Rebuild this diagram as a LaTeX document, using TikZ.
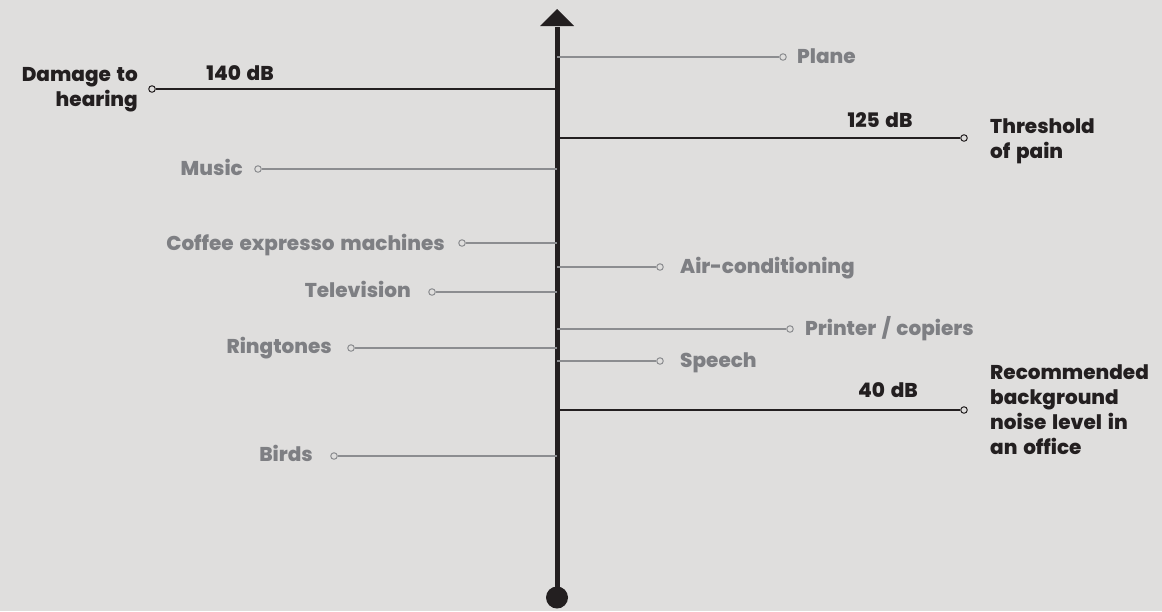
\documentclass[tikz,border=0pt]{standalone}
\usepackage{fontspec}
\setmainfont{Poppins}[BoldFont={Poppins ExtraBold}, WordSpace=1.5]
\usetikzlibrary{arrows.meta}
\definecolor{bg}{HTML}{DFDEDD}
\definecolor{ink}{HTML}{231F20}
\definecolor{soft}{HTML}{7E7F83}
\definecolor{softline}{HTML}{8C8D90}
\tikzset{
  lbl/.style={font=\fontsize{20}{25}\selectfont\bfseries, inner sep=0pt},
  graylbl/.style={lbl, text=soft},
  blacklbl/.style={lbl, text=ink},
  grayline/.style={draw=softline, line width=1.3pt},
  blackline/.style={draw=ink, line width=1.8pt},
  graydot/.style={circle, draw=softline, fill=bg, line width=1pt, minimum size=6.5pt, inner sep=0pt},
  blackdot/.style={circle, draw=ink, fill=bg, line width=1pt, minimum size=6.5pt, inner sep=0pt},
}
\begin{document}
\begin{tikzpicture}[x=1pt,y=-1pt]
\fill[bg] (0,0) rectangle (1162,611);
\useasboundingbox (0,0) rectangle (1162,611);
% axis
\coordinate (top) at (557,27);
\node[circle, fill=ink, minimum size=22pt, inner sep=0pt] (bot) at (557,597.5) {};
\draw[ink, line width=5pt] (bot.center) -- (top);
\fill[ink] (540,26) -- (557,9) -- (574,26) -- cycle;
% Plane
\coordinate (a1) at (557,57);
\node[graydot] (d1) at (783,57) {};
\node[graylbl, anchor=base west] (t1) at (797,63) {Plane};
\draw[grayline] (a1) -- (d1);
% 140 dB
\coordinate (a2) at (557,89);
\node[blackdot] (d2) at (152,89) {};
\draw[blackline] (a2) -- (d2);
\node[blacklbl, anchor=base] (v2) at (240,80) {140 dB};
\node[blacklbl, anchor=north east, align=right] (t2) at (138,67) {Damage to\\hearing};
% 125 dB
\coordinate (a3) at (557,138);
\node[blackdot] (d3) at (964,138) {};
\draw[blackline] (a3) -- (d3);
\node[blacklbl, anchor=base] (v3) at (880,127) {125 dB};
\node[blacklbl, anchor=north west, align=left] (t3) at (990,118) {Threshold\\of pain};
% Music
\coordinate (a4) at (557,169);
\node[graydot] (d4) at (258,169) {};
\draw[grayline] (a4) -- (d4);
\node[graylbl, anchor=base east] (t4) at (243,175) {Music};
% Coffee
\coordinate (a5) at (557,243);
\node[graydot] (d5) at (462,243) {};
\draw[grayline] (a5) -- (d5);
\node[graylbl, anchor=base east] (t5) at (445,250) {Coffee expresso machines};
% Air-conditioning
\coordinate (a6) at (557,267);
\node[graydot] (d6) at (660,267) {};
\draw[grayline] (a6) -- (d6);
\node[graylbl, anchor=base west] (t6) at (680,273) {Air-conditioning};
% Television
\coordinate (a7) at (557,292);
\node[graydot] (d7) at (432,292) {};
\draw[grayline] (a7) -- (d7);
\node[graylbl, anchor=base east] (t7) at (411,297) {Television};
% Printer
\coordinate (a8) at (557,329);
\node[graydot] (d8) at (790,329) {};
\draw[grayline] (a8) -- (d8);
\node[graylbl, anchor=base west] (t8) at (805,335) {Printer / copiers};
% Ringtones
\coordinate (a9) at (557,348);
\node[graydot] (d9) at (351,348) {};
\draw[grayline] (a9) -- (d9);
\node[graylbl, anchor=base east] (t9) at (332,353) {Ringtones};
% Speech
\coordinate (a10) at (557,361);
\node[graydot] (d10) at (660,361) {};
\draw[grayline] (a10) -- (d10);
\node[graylbl, anchor=base west] (t10) at (680,367) {Speech};
% 40 dB
\coordinate (a11) at (557,410);
\node[blackdot] (d11) at (964,410) {};
\draw[blackline] (a11) -- (d11);
\node[blacklbl, anchor=base] (v11) at (888,397) {40 dB};
\node[blacklbl, anchor=north west, align=left] (t11) at (990,364) {Recommended\\background\\noise level in\\an office};
% Birds
\coordinate (a12) at (557,456);
\node[graydot] (d12) at (334,456) {};
\draw[grayline] (a12) -- (d12);
\node[graylbl, anchor=base east] (t12) at (313,461) {Birds};
\end{tikzpicture}
\end{document}
